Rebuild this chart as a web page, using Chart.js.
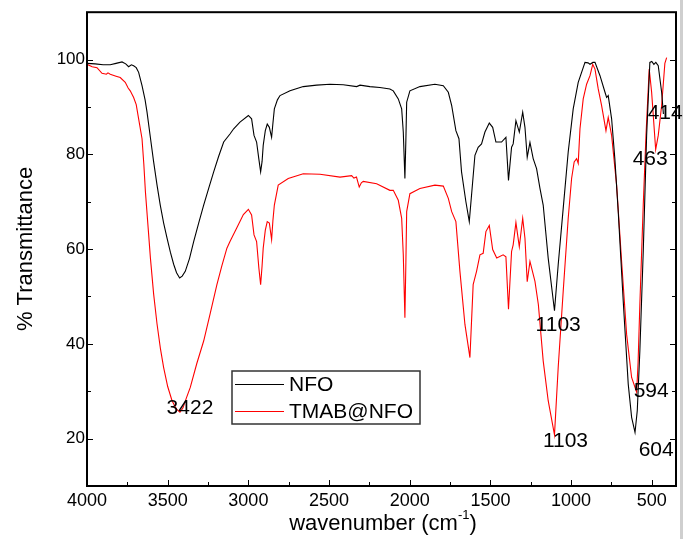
<!DOCTYPE html>
<html>
<head>
<meta charset="utf-8">
<script src="https://cdn.jsdelivr.net/npm/chart.js@4/dist/chart.umd.min.js"></script>
<style>
html,body{margin:0;padding:0;background:#fff;}
canvas{display:block;}
</style>
</head>
<body>
<canvas id="c" width="683" height="539"></canvas>
<script>
// ---- Data ----
const nfoX = [4000,3950,3900,3856,3820,3783,3760,3742,3725,3711,3695,3680,3659,3640,3628,3607,3587,3566,3546,3525,3504,3483,3463,3445,3426,3410,3391,3365,3339,3308,3277,3246,3215,3184,3153,3114,3091,3052,3000,2980,2965,2949,2935,2924,2915,2908,2895,2883,2870,2856,2848,2839,2820,2804,2742,2660,2577,2494,2412,2329,2308,2247,2185,2123,2102,2071,2050,2040,2030,2024,2019,1999,1937,1844,1792,1761,1740,1714,1695,1679,1652,1631,1610,1596,1576,1555,1534,1507,1486,1466,1431,1404,1388,1369,1359,1342,1321,1300,1286,1272,1255,1235,1214,1193,1173,1142,1103,1080,1049,1018,987,956,914,895,883,865,852,821,790,780,770,749,729,708,677,646,625,604,590,574,553,532,512,500,487,475,460,439,428];
const nfoY = [99.2,99.1,98.9,98.9,99.2,99.5,99.1,98.5,98.9,98.7,98.3,97.3,94.5,91.5,88.9,83.5,78.4,73.5,69.3,65.5,62.3,59.3,56.8,55.0,53.9,54.3,55.3,58.0,61.6,65.5,69.3,72.8,76.3,79.6,82.6,84.3,85.4,86.8,88.2,87.5,84.0,82.6,79.0,76.3,78.5,81.9,85.0,86.4,85.7,83.6,86.5,89.6,91.5,92.4,93.4,94.3,94.6,94.8,94.7,94.3,94.6,94.3,94.1,93.8,93.4,91.7,89.6,84.7,74.9,83.0,91.0,93.4,94.3,94.8,94.5,93.1,90.3,85.0,83.3,76.3,70.0,65.8,74.2,79.8,81.5,82.2,84.7,86.6,85.7,82.6,82.6,83.6,74.5,81.5,82.2,87.1,84.7,88.9,85.7,79.4,82.5,79.1,77.0,72.8,69.3,58.1,47.0,56.7,68.6,80.5,89.6,95.2,99.4,99.3,99.0,99.4,99.4,96.6,93.1,92.0,92.4,87.5,79.1,67.9,49.0,31.5,24.5,21.3,25.9,38.5,59.5,84.0,99.4,99.6,99.0,99.4,98.7,93.1,88.5];

const tmabX = [4000,3968,3938,3907,3880,3870,3856,3820,3794,3763,3745,3732,3711,3695,3680,3659,3648,3638,3620,3607,3587,3566,3545,3525,3500,3473,3445,3424,3405,3385,3360,3320,3277,3236,3195,3164,3133,3114,3073,3031,3000,2980,2965,2949,2935,2924,2915,2908,2895,2883,2870,2856,2848,2839,2815,2753,2660,2556,2432,2360,2346,2330,2313,2300,2288,2205,2123,2102,2071,2050,2040,2030,2024,2019,1999,1937,1844,1792,1761,1740,1714,1689,1658,1627,1607,1586,1565,1545,1528,1507,1486,1461,1421,1404,1388,1369,1359,1342,1321,1300,1286,1272,1255,1224,1203,1173,1142,1103,1080,1049,1018,997,981,966,956,945,925,904,883,866,852,832,811,784,770,749,718,687,656,625,594,585,574,553,536,516,501,476,460,439,419,408];
const tmabY = [99.0,98.5,98.3,97.1,96.9,97.2,96.9,96.5,96.2,95.2,94.0,93.4,92.0,90.5,87.5,83.3,78.0,72.1,64.0,58.1,50.5,44.2,39.0,35.0,31.0,28.0,26.2,25.6,26.5,28.5,30.8,35.8,40.6,46.5,52.5,56.5,60.2,61.6,64.4,67.3,68.4,67.2,63.0,61.6,56.0,52.5,56.5,60.2,64.0,65.8,65.5,62.0,66.0,69.3,73.5,74.9,75.9,75.8,75.2,75.5,75.0,75.2,73.1,74.0,74.3,73.8,72.4,72.4,70.3,66.5,58.8,45.5,57.0,67.9,71.7,72.8,73.5,73.3,70.7,67.9,65.8,55.3,44.1,37.1,52.5,55.3,58.8,59.1,63.7,65.0,59.9,58.1,58.8,58.4,47.3,59.5,60.9,65.6,60.5,66.5,62.3,53.1,57.4,53.2,48.3,36.4,28.0,20.8,35.0,51.1,66.5,74.9,78.4,79.1,78.1,85.4,91.7,94.8,96.6,99.0,98.0,93.8,90.3,85.0,87.8,84.0,73.5,57.4,42.0,32.9,29.8,36.0,48.3,69.3,84.0,98.0,93.1,81.0,84.0,90.3,99.2,100.4];

const seriesNames = ['NFO','TMAB@NFO'];
const xTickValues = [4000,3500,3000,2500,2000,1500,1000,500];
const xMinorValues = [3750,3250,2750,2250,1750,1250,750];
const yTickValues = [20,40,60,80,100];
const yMinorValues = [10,30,50,70,90,110];
const peakLabels = ['3422','1103','1103','594','604','463','414'];
// annotation anchor values (wavenumber, %T) for each peak label
const peakLabelX = [3362,1080,1035,504,473,510,417];
const peakLabelY = [26.5,44.0,19.5,30.0,17.5,79.0,88.7];

const FONT = '"Liberation Sans", Arial, sans-serif';

const framePlugin = {
  id: 'frame',
  afterDraw(chart) {
    const ctx = chart.ctx;
    const a = chart.chartArea;
    const xs = chart.scales.x, ys = chart.scales.y;
    ctx.save();
    // light gray strip at right edge
    ctx.fillStyle = '#cfcfcf';
    ctx.fillRect(680, 0, 3, 539);
    // ticks
    ctx.strokeStyle = '#000';
    ctx.lineWidth = 1;
    ctx.beginPath();
    xTickValues.forEach(v => { const p = Math.round(xs.getPixelForValue(v)) + 0.5; ctx.moveTo(p, a.bottom); ctx.lineTo(p, a.bottom - 6); });
    xMinorValues.forEach(v => { const p = Math.round(xs.getPixelForValue(v)) + 0.5; ctx.moveTo(p, a.bottom); ctx.lineTo(p, a.bottom - 4); });
    yTickValues.forEach(v => { const p = Math.round(ys.getPixelForValue(v)) + 0.5; ctx.moveTo(a.left, p); ctx.lineTo(a.left + 6, p); ctx.moveTo(a.right, p); ctx.lineTo(a.right - 6, p); });
    yMinorValues.forEach(v => { const p = Math.round(ys.getPixelForValue(v)) + 0.5; ctx.moveTo(a.left, p); ctx.lineTo(a.left + 4, p); ctx.moveTo(a.right, p); ctx.lineTo(a.right - 4, p); });
    ctx.stroke();
    // frame
    ctx.lineWidth = 2;
    ctx.strokeRect(a.left, a.top, a.right - a.left, a.bottom - a.top);

    // peak labels
    ctx.fillStyle = '#000';
    ctx.font = '21px ' + FONT;
    ctx.textAlign = 'center';
    ctx.textBaseline = 'middle';
    peakLabels.forEach((t, i) => {
      const px = xs.getPixelForValue(peakLabelX[i]);
      const py = ys.getPixelForValue(peakLabelY[i]);
      ctx.fillText(t, px, py);
    });

    // legend
    const lx = 232, ly = 371, lw = 188, lh = 53;
    ctx.lineWidth = 1.5;
    ctx.strokeStyle = '#333';
    ctx.strokeRect(lx, ly, lw, lh);
    const cols = chart.data.datasets.map(d => d.borderColor);
    const rowsY = [384, 411];
    ctx.font = '21px ' + FONT;
    ctx.textAlign = 'left';
    seriesNames.forEach((n, i) => {
      ctx.strokeStyle = cols[i];
      ctx.lineWidth = 1.2;
      ctx.beginPath();
      ctx.moveTo(235, rowsY[i] + 0.5);
      ctx.lineTo(284, rowsY[i] + 0.5);
      ctx.stroke();
      ctx.fillStyle = '#000';
      ctx.fillText(n, 289, rowsY[i] + 1);
    });

    // axis titles
    ctx.font = '22px ' + FONT;
    ctx.textBaseline = 'middle';
    const main = 'wavenumber (cm';
    const sup = '-1';
    const close = ')';
    const w1 = ctx.measureText(main).width;
    ctx.font = '13px ' + FONT;
    const w2 = ctx.measureText(sup).width;
    ctx.font = '22px ' + FONT;
    const w3 = ctx.measureText(close).width;
    let sx = 383 - (w1 + w2 + w3) / 2;
    const ty = 524;
    ctx.textAlign = 'left';
    ctx.fillText(main, sx, ty);
    ctx.font = '13px ' + FONT;
    ctx.fillText(sup, sx + w1, ty - 9);
    ctx.font = '22px ' + FONT;
    ctx.fillText(close, sx + w1 + w2, ty);

    ctx.translate(26, 249);
    ctx.rotate(-Math.PI / 2);
    ctx.textAlign = 'center';
    ctx.fillText('% Transmittance', 0, 0);
    ctx.restore();
  }
};

const mk = (xs, ys) => xs.map((x, i) => ({ x: x, y: ys[i] }));

new Chart(document.getElementById('c'), {
  type: 'scatter',
  data: {
    datasets: [
      { label: seriesNames[0], data: mk(nfoX, nfoY), borderColor: '#000000', backgroundColor: '#000000', showLine: true, pointRadius: 0, borderWidth: 1.1, tension: 0 },
      { label: seriesNames[1], data: mk(tmabX, tmabY), borderColor: '#ff0000', backgroundColor: '#ff0000', showLine: true, pointRadius: 0, borderWidth: 1.1, tension: 0 }
    ]
  },
  options: {
    responsive: false,
    animation: false,
    devicePixelRatio: 1,
    layout: { padding: { top: 9, right: 7, left: 0, bottom: 0 } },
    plugins: { legend: { display: false }, tooltip: { enabled: false } },
    scales: {
      x: {
        type: 'linear', reverse: true, min: 350, max: 4000,
        afterBuildTicks: s => { s.ticks = xTickValues.map(v => ({ value: v })); },
        afterFit: s => { s.height = 53; },
        grid: { display: false, drawTicks: false },
        border: { display: false },
        ticks: { padding: 4, color: '#000', font: { family: FONT, size: 18 }, maxRotation: 0, autoSkip: false, callback: v => String(v) }
      },
      y: {
        type: 'linear', min: 10, max: 110,
        afterBuildTicks: s => { s.ticks = yTickValues.map(v => ({ value: v })); },
        afterFit: s => { s.width = 87; },
        grid: { display: false, drawTicks: false },
        border: { display: false },
        ticks: { padding: 2, color: '#000', font: { family: FONT, size: 17 }, autoSkip: false, callback: v => String(v) }
      }
    }
  },
  plugins: [framePlugin]
});
</script>
</body>
</html>
